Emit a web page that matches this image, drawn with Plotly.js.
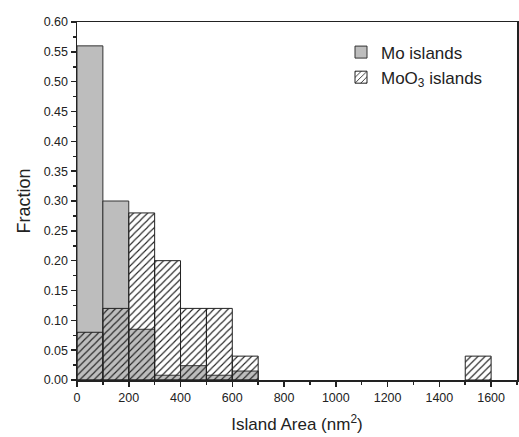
<!DOCTYPE html>
<html>
<head>
<meta charset="utf-8">
<script src="https://cdn.plot.ly/plotly-3.0.1.min.js"></script>
<style>html,body{margin:0;padding:0;background:#fff;}#chart{width:519px;height:437px;}</style>
</head>
<body>
<div id="chart"></div>
<script>
// Bin centres (nm^2), bin width 100
const moBins = [50, 150, 250, 350, 450, 550, 650];
const moFraction = [0.56, 0.30, 0.085, 0.008, 0.024, 0.008, 0.015];
const moo3Bins = [50, 150, 250, 350, 450, 550, 650, 1550];
const moo3Fraction = [0.08, 0.12, 0.28, 0.20, 0.12, 0.12, 0.04, 0.04];
const binWidth = 100;
const xTicks = [0, 200, 400, 600, 800, 1000, 1200, 1400, 1600];

const traces = [
  {
    type: 'bar', name: 'Mo islands', x: moBins, y: moFraction,
    width: moBins.map(() => binWidth),
    marker: {color: '#bdbdbd', line: {color: '#333', width: 1}}
  },
  {
    type: 'bar', name: 'MoO<sub>3</sub> islands', x: moo3Bins, y: moo3Fraction,
    width: moo3Bins.map(() => binWidth),
    marker: {
      color: 'rgba(0,0,0,0)',
      line: {color: '#222', width: 1},
      pattern: {shape: '/', fgcolor: '#222', bgcolor: 'rgba(0,0,0,0)', size: 5, solidity: 0.22, fillmode: 'replace'}
    }
  }
];

const layout = {
  width: 519, height: 437,
  margin: {l: 77, r: 2, t: 22, b: 57},
  paper_bgcolor: '#fff', plot_bgcolor: '#fff',
  barmode: 'overlay',
  font: {family: 'Liberation Sans, Arial, sans-serif', color: '#222', size: 12},
  showlegend: true,
  legend: {x: 0.6, y: 0.965, xanchor: 'left', yanchor: 'top', bgcolor: 'rgba(0,0,0,0)',
           font: {size: 17, color: '#222'}, tracegroupgap: 0, itemwidth: 30},
  xaxis: {
    range: [0, 1700], tickvals: xTicks, ticks: 'outside', ticklen: 5, tickwidth: 1.5,
    tickcolor: '#222', showline: true, linecolor: '#222', linewidth: 1.5, mirror: true,
    showgrid: false, zeroline: false,
    minor: {dtick: 100, ticks: 'outside', ticklen: 3, tickcolor: '#222', showgrid: false},
    tickfont: {size: 12.5},
    title: {text: 'Island Area (nm<sup>2</sup>)', font: {size: 17}, standoff: 14}
  },
  yaxis: {
    range: [0, 0.6], dtick: 0.05, tickformat: '.2f', ticks: 'outside', ticklen: 5, tickwidth: 1.5,
    tickcolor: '#222', showline: true, linecolor: '#222', linewidth: 1.5, mirror: true,
    showgrid: false, zeroline: false,
    minor: {dtick: 0.025, ticks: 'outside', ticklen: 3, tickcolor: '#222', showgrid: false},
    tickfont: {size: 12.5},
    title: {text: 'Fraction', font: {size: 18}, standoff: 8}
  }
};

Plotly.newPlot('chart', traces, layout, {displayModeBar: false, staticPlot: true});
</script>
</body>
</html>
